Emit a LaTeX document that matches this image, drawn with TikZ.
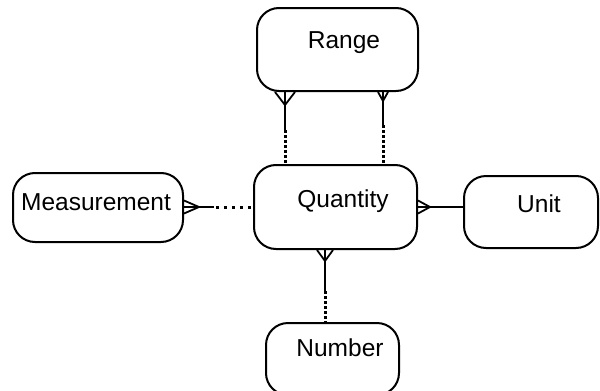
\documentclass[tikz,border=0pt]{standalone}
\usepackage{fontspec}
\setmainfont{Liberation Sans}
\usetikzlibrary{calc}
\begin{document}
\begin{tikzpicture}[x=1pt,y=-1pt,
  entity/.style={draw=black,line width=2pt,rounded corners=22pt,inner sep=0pt},
  lbl/.style={inner sep=0pt,anchor=base,font=\fontsize{24.5}{28}\selectfont},
  conn/.style={draw=black,line width=1.8pt},
  vdots/.style={draw=black,line width=3pt,dash pattern=on 2.5pt off 2.5pt},
  hdots/.style={draw=black,line width=3pt,dash pattern=on 3pt off 5pt}]
\useasboundingbox (0,0) rectangle (600,391);
\begin{scope}
\clip (0,0) rectangle (600,391);
\node[entity,minimum width=161pt,minimum height=83pt] (range) at (337.5,49.5) {};
\node[entity,minimum width=163pt,minimum height=84pt] (quantity) at (335.5,207) {};
\node[entity,minimum width=170pt,minimum height=69pt] (measurement) at (98,207.5) {};
\node[entity,minimum width=134pt,minimum height=72pt] (unit) at (531,212) {};
\node[entity,minimum width=133pt,minimum height=72pt] (number) at (332.5,359) {};
\end{scope}
\node[lbl] (rangeT) at (344,48) {Range};
\node[lbl] (quantityT) at (343,207) {Quantity};
\node[lbl] (measurementT) at (96,210) {Measurement};
\node[lbl] (unitT) at (539,212) {Unit};
\node[lbl] (numberT) at (340,356) {Number};
% Range -- Quantity (left)
\coordinate (rl) at ([xshift=-52.5pt]range.south);
\draw[conn] ([xshift=-10pt]rl) -- ([yshift=-13pt]rl) -- ([xshift=10pt]rl);
\draw[conn] (rl) -- ([yshift=-38pt]rl);
\draw[vdots] ([yshift=-38pt]rl) -- (rl |- quantity.north);
% Range -- Quantity (right)
\coordinate (rr) at ([xshift=45.5pt]range.south);
\draw[conn] ([xshift=-5pt]rr) -- ([yshift=-9pt]rr) -- ([xshift=5pt]rr);
\draw[conn] (rr) -- ([yshift=-33pt]rr);
\draw[vdots] ([yshift=-33pt]rr) -- (rr |- quantity.north);
% Measurement -- Quantity
\coordinate (me) at (quantity.west -| measurement.east);
\draw[conn] ([yshift=6.5pt]me) -- ([xshift=15pt]me) -- ([yshift=-6.5pt]me);
\draw[conn] (me) -- ([xshift=30pt]me);
\draw[hdots] ([xshift=32pt]me) -- (quantity.west);
% Quantity -- Unit
\coordinate (qe) at (quantity.east);
\draw[conn] ([yshift=6.5pt]qe) -- ([xshift=12pt]qe) -- ([yshift=-6.5pt]qe);
\draw[conn] (qe) -- (qe -| unit.west);
% Quantity -- Number
\coordinate (qs) at ([xshift=-10.5pt]quantity.south);
\draw[conn] ([xshift=-8pt]qs) -- ([yshift=-11pt]qs) -- ([xshift=8pt]qs);
\draw[conn] (qs) -- ([yshift=-41pt]qs);
\draw[vdots] ([yshift=-41pt]qs) -- (qs |- number.north);
\end{tikzpicture}
\end{document}
